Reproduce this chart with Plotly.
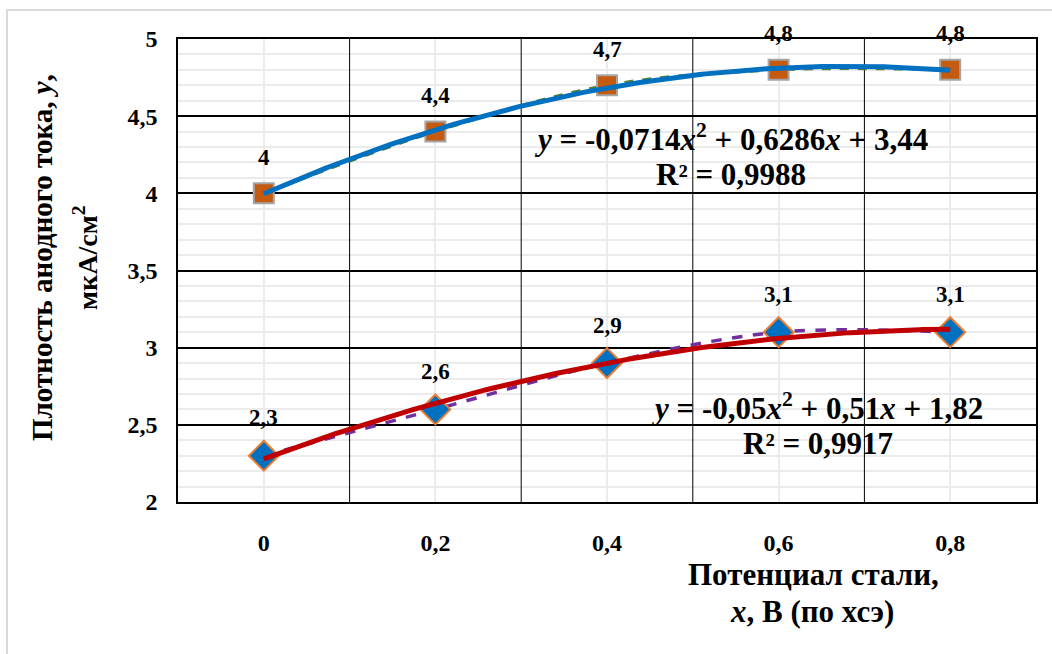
import numpy as np
import plotly.graph_objects as go

# ---- data ----
x_vals = [0, 0.2, 0.4, 0.6, 0.8]
x_labels = ["0", "0,2", "0,4", "0,6", "0,8"]
top_vals = [4.0, 4.4, 4.7, 4.8, 4.8]
top_labels = ["4", "4,4", "4,7", "4,8", "4,8"]
bot_vals = [2.3, 2.6, 2.9, 3.1, 3.1]
bot_labels = ["2,3", "2,6", "2,9", "3,1", "3,1"]
y_ticks = [2, 2.5, 3, 3.5, 4, 4.5, 5]
y_tick_labels = ["2", "2,5", "3", "3,5", "4", "4,5", "5"]
eq_top = ["<i>y</i> = -0,0714<i>x</i><sup>2</sup> + 0,6286<i>x</i> + 3,44", "R² = 0,9988"]
eq_bot = ["<i>y</i> = -0,05<i>x</i><sup>2</sup> + 0,51<i>x</i> + 1,82", "R² = 0,9917"]
x_title = ["Потенциал стали,", "<i>x</i>, В (по хсэ)"]
y_title = ["Плотность анодного тока, <i>y</i>,", "мкА/см<sup>2</sup>"]

FONT = "Times New Roman"


def b(t):
    return "<b>" + t + "</b>"


# polynomial trendlines (Excel uses category index 1..n as x)
idx = np.arange(1, len(x_vals) + 1)
fine_idx = np.linspace(1, len(x_vals), 200)
step = x_vals[1] - x_vals[0]
fine_x = (fine_idx - 1) * step + x_vals[0]
top_fit = np.polyval(np.polyfit(idx, top_vals, 2), fine_idx)
bot_fit = np.polyval(np.polyfit(idx, bot_vals, 2), fine_idx)

fig = go.Figure()

# black vertical gridlines between categories (as a line trace under the data)
gx, gy = [], []
for i in range(len(x_vals) - 1):
    xb = (x_vals[i] + x_vals[i + 1]) / 2
    gx += [xb, xb, None]
    gy += [y_ticks[0], y_ticks[-1], None]
fig.add_trace(go.Scatter(x=gx, y=gy, mode="lines", line=dict(color="black", width=1),
                         hoverinfo="skip", showlegend=False))

fig.add_trace(go.Scatter(
    x=x_vals, y=top_vals, mode="lines+markers", line_shape="spline",
    line=dict(color="#548235", width=3, dash="dash"),
    marker=dict(symbol="square", size=20, color="#C55A11",
                line=dict(color="#A5A5A5", width=2)),
    showlegend=False))
fig.add_trace(go.Scatter(
    x=x_vals, y=bot_vals, mode="lines+markers", line_shape="spline",
    line=dict(color="#7030A0", width=3.5, dash="dash"),
    marker=dict(symbol="diamond", size=23, color="#0070C0",
                line=dict(color="#ED7D31", width=2)),
    showlegend=False))
fig.add_trace(go.Scatter(
    x=fine_x, y=top_fit, mode="lines",
    line=dict(color="#0070C0", width=5), showlegend=False))
fig.add_trace(go.Scatter(
    x=fine_x, y=bot_fit, mode="lines",
    line=dict(color="#C00000", width=5), showlegend=False))

annotations = []
lab_font = dict(family=FONT, size=23, color="black")
for xv, yv, t in zip(x_vals, top_vals, top_labels):
    annotations.append(dict(x=xv, y=yv, text=b(t), showarrow=False, yshift=36,
                            font=lab_font, xanchor="center", yanchor="middle"))
for xv, yv, t in zip(x_vals, bot_vals, bot_labels):
    annotations.append(dict(x=xv, y=yv, text=b(t), showarrow=False, yshift=38,
                            font=lab_font, xanchor="center", yanchor="middle"))

L, R, T, B = 178, 16, 39, 152
W, H = 1052, 654
pw, ph = W - L - R, H - T - B


def px(xp):
    return (xp - L) / pw


def py(yp):
    return (H - B - yp) / ph


eq_font = dict(family=FONT, size=31, color="black")
annotations += [
    dict(xref="paper", yref="paper", x=px(731), y=py(137), text=b(eq_top[0]),
         showarrow=False, font=eq_font, xanchor="center", yanchor="middle"),
    dict(xref="paper", yref="paper", x=px(731), y=py(174), text=b(eq_top[1]),
         showarrow=False, font=eq_font, xanchor="center", yanchor="middle"),
    dict(xref="paper", yref="paper", x=px(817), y=py(406), text=b(eq_bot[0]),
         showarrow=False, font=eq_font, xanchor="center", yanchor="middle"),
    dict(xref="paper", yref="paper", x=px(818), y=py(443), text=b(eq_bot[1]),
         showarrow=False, font=eq_font, xanchor="center", yanchor="middle"),
]
xt_font = dict(family=FONT, size=31, color="black")
annotations += [
    dict(xref="paper", yref="paper", x=px(813), y=py(574), text=b(x_title[0]),
         showarrow=False, font=xt_font, xanchor="center", yanchor="middle"),
    dict(xref="paper", yref="paper", x=px(812), y=py(611), text=b(x_title[1]),
         showarrow=False, font=xt_font, xanchor="center", yanchor="middle"),
]
annotations += [
    dict(xref="paper", yref="paper", x=px(42), y=py(258),
         text=b(y_title[0]), textangle=-90,
         showarrow=False, font=dict(family=FONT, size=29, color="black"),
         xanchor="center", yanchor="middle"),
    dict(xref="paper", yref="paper", x=px(85), y=py(258),
         text=b(y_title[1]), textangle=-90,
         showarrow=False, font=dict(family=FONT, size=28, color="black"),
         xanchor="center", yanchor="middle"),
]

tick_font = dict(family=FONT, size=24, color="black")

shapes = [dict(type="rect", xref="paper", yref="paper",
               x0=px(7), x1=px(1100), y0=py(700), y1=py(10),
               line=dict(color="#D9D9D9", width=2), layer="below")]

fig.update_layout(
    width=W, height=H,
    margin=dict(l=L, r=R, t=T, b=B),
    paper_bgcolor="white", plot_bgcolor="white",
    font=dict(family=FONT, color="black"),
    annotations=annotations,
    shapes=shapes,
    xaxis=dict(
        range=[x_vals[0] - step / 2, x_vals[-1] + step / 2],
        tickmode="array", tickvals=x_vals, ticktext=[b(t) for t in x_labels],
        tickfont=tick_font, showgrid=True, gridcolor="#EBEBEB", gridwidth=2,
        showline=True, linecolor="black", linewidth=2, mirror=True,
        ticks="", ticklabelstandoff=18, zeroline=False,
    ),
    yaxis=dict(
        range=[y_ticks[0], y_ticks[-1]], tickmode="array", tickvals=y_ticks,
        ticktext=[b(t) for t in y_tick_labels],
        tickfont=tick_font, showgrid=True, gridcolor="black", gridwidth=2,
        showline=True, linecolor="black", linewidth=1.5, mirror=True,
        ticks="", ticklabelstandoff=14, zeroline=False,
        minor=dict(dtick=0.1, showgrid=True, gridcolor="#EBEBEB", gridwidth=2,
                   ticks=""),
    ),
)

fig.write_html("out.html")
